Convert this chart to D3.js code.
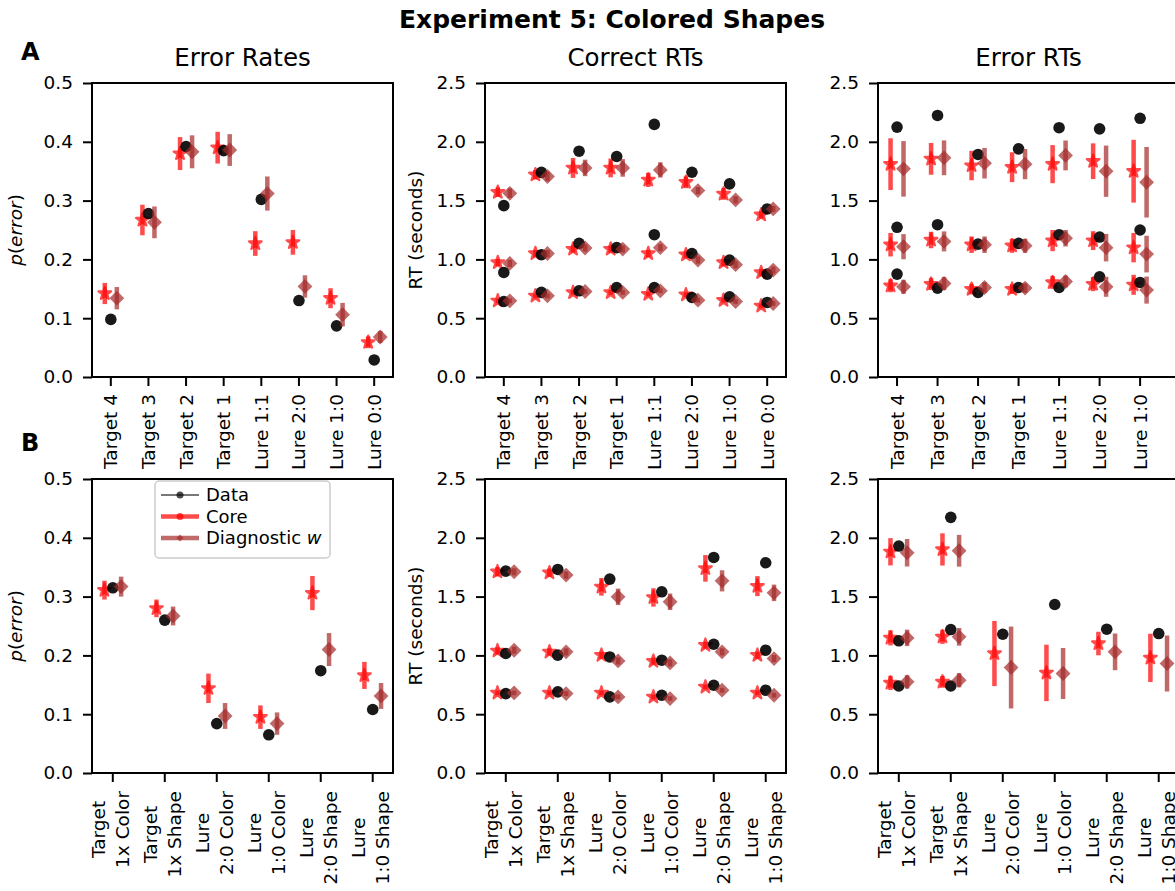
<!DOCTYPE html>
<html>
<head>
<meta charset="utf-8">
<script src="https://cdn.jsdelivr.net/npm/d3@7/dist/d3.min.js"></script>
<style>
  body { margin: 0; background: #fff; }
  text { font-family: "DejaVu Sans", sans-serif; fill: #000; }
</style>
</head>
<body>
<svg id="fig" width="1175" height="891"></svg>
<script>
// ---- categories / ticks ----
const topCats = ["Target 4", "Target 3", "Target 2", "Target 1", "Lure 1:1", "Lure 2:0", "Lure 1:0", "Lure 0:0"];
const topErrRtCats = ["Target 4", "Target 3", "Target 2", "Target 1", "Lure 1:1", "Lure 2:0", "Lure 1:0"];
const bottomCats = [["Target", "1x Color"], ["Target", "1x Shape"], ["Lure", "2:0 Color"],
                    ["Lure", "1:0 Color"], ["Lure", "2:0 Shape"], ["Lure", "1:0 Shape"]];
const rateTicks = [0, 0.1, 0.2, 0.3, 0.4, 0.5];
const rtTicks = [0, 0.5, 1.0, 1.5, 2.0, 2.5];

// ---- A: error rates ----
const aRateData = [0.098, 0.278, 0.392, 0.385, 0.302, 0.130, 0.087, 0.029];
const aRateCore = [0.142, 0.267, 0.380, 0.390, 0.227, 0.229, 0.134, 0.059];
const aRateCoreErr = [0.018, 0.026, 0.028, 0.027, 0.021, 0.021, 0.017, 0.010];
const aRateDiag = [0.134, 0.263, 0.383, 0.386, 0.312, 0.154, 0.106, 0.068];
const aRateDiagErr = [0.019, 0.027, 0.028, 0.027, 0.029, 0.019, 0.020, 0.010];

// ---- A: correct RTs (rows = low, mid, high quantile) ----
const aCorrData = [[0.642, 0.720, 0.733, 0.761, 0.761, 0.676, 0.682, 0.634],
                   [0.889, 1.040, 1.136, 1.100, 1.210, 1.050, 0.994, 0.875],
                   [1.457, 1.740, 1.920, 1.875, 2.148, 1.741, 1.642, 1.429]];
const aCorrCore = [[0.648, 0.690, 0.719, 0.719, 0.705, 0.700, 0.653, 0.605],
                   [0.974, 1.050, 1.088, 1.088, 1.050, 1.040, 0.974, 0.889],
                   [1.571, 1.720, 1.778, 1.778, 1.676, 1.656, 1.557, 1.380]];
const aCorrCoreErr = [[0.02, 0.02, 0.02, 0.02, 0.02, 0.02, 0.02, 0.02],
                      [0.03, 0.03, 0.03, 0.03, 0.03, 0.03, 0.03, 0.03],
                      [0.04, 0.04, 0.085, 0.08, 0.06, 0.05, 0.05, 0.03]];
const aCorrDiag = [[0.648, 0.690, 0.727, 0.719, 0.733, 0.653, 0.642, 0.625],
                   [0.966, 1.050, 1.097, 1.088, 1.100, 0.994, 0.955, 0.909],
                   [1.562, 1.705, 1.778, 1.778, 1.761, 1.585, 1.506, 1.429]];
const aCorrDiagErr = [[0.02, 0.02, 0.02, 0.02, 0.02, 0.02, 0.02, 0.02],
                      [0.03, 0.03, 0.03, 0.03, 0.03, 0.03, 0.03, 0.03],
                      [0.04, 0.04, 0.07, 0.075, 0.065, 0.03, 0.03, 0.025]];

// ---- A: error RTs ----
const aErrData = [[0.875, 0.756, 0.719, 0.761, 0.761, 0.852, 0.804],
                  [1.273, 1.295, 1.130, 1.136, 1.210, 1.190, 1.250],
                  [2.125, 2.224, 1.892, 1.940, 2.120, 2.110, 2.200]];
const aErrCore = [[0.776, 0.790, 0.747, 0.747, 0.804, 0.790, 0.784],
                  [1.125, 1.165, 1.125, 1.116, 1.160, 1.160, 1.100],
                  [1.810, 1.855, 1.798, 1.784, 1.810, 1.835, 1.750]];
const aErrCoreErr = [[0.055, 0.05, 0.045, 0.04, 0.055, 0.06, 0.085],
                     [0.10, 0.07, 0.07, 0.06, 0.09, 0.08, 0.125],
                     [0.22, 0.135, 0.125, 0.127, 0.162, 0.152, 0.267]];
const aErrDiag = [[0.767, 0.795, 0.761, 0.756, 0.812, 0.767, 0.739],
                  [1.108, 1.153, 1.125, 1.116, 1.180, 1.100, 1.045],
                  [1.770, 1.864, 1.818, 1.810, 1.884, 1.750, 1.656]];
const aErrDiagErr = [[0.06, 0.055, 0.045, 0.04, 0.05, 0.085, 0.115],
                     [0.107, 0.085, 0.07, 0.06, 0.07, 0.117, 0.156],
                     [0.236, 0.148, 0.13, 0.128, 0.127, 0.218, 0.30]];

// ---- B: error rates ----
const bRateData = [0.315, 0.260, 0.084, 0.065, 0.174, 0.108];
const bRateCore = [0.311, 0.280, 0.144, 0.095, 0.306, 0.166];
const bRateCoreErr = [0.016, 0.015, 0.025, 0.020, 0.029, 0.023];
const bRateDiag = [0.317, 0.267, 0.097, 0.084, 0.210, 0.131];
const bRateDiagErr = [0.017, 0.016, 0.022, 0.019, 0.028, 0.022];

// ---- B: correct RTs ----
const bCorrData = [[0.675, 0.690, 0.647, 0.661, 0.746, 0.704],
                   [1.016, 1.002, 0.987, 0.959, 1.095, 1.044],
                   [1.717, 1.731, 1.649, 1.541, 1.833, 1.788]];
const bCorrCore = [[0.681, 0.681, 0.681, 0.647, 0.732, 0.681],
                   [1.039, 1.030, 1.002, 0.951, 1.087, 1.002],
                   [1.711, 1.703, 1.583, 1.493, 1.740, 1.589]];
const bCorrCoreErr = [[0.02, 0.02, 0.02, 0.02, 0.02, 0.02],
                      [0.03, 0.03, 0.03, 0.03, 0.03, 0.03],
                      [0.04, 0.035, 0.075, 0.078, 0.113, 0.085]];
const bCorrDiag = [[0.681, 0.675, 0.647, 0.633, 0.704, 0.661],
                   [1.044, 1.030, 0.953, 0.936, 1.030, 0.973],
                   [1.711, 1.683, 1.498, 1.456, 1.634, 1.532]];
const bCorrDiagErr = [[0.02, 0.02, 0.02, 0.02, 0.02, 0.02],
                      [0.03, 0.03, 0.03, 0.03, 0.03, 0.03],
                      [0.03, 0.03, 0.07, 0.07, 0.09, 0.07]];

// ---- B: error RTs (lures only have a single point) ----
const bErrData = [[0.740, 0.740, null, null, null, null],
                  [1.124, 1.220, 1.180, 1.433, 1.223, 1.186],
                  [1.930, 2.174, null, null, null, null]];
const bErrCore = [[0.766, 0.775, null, null, null, null],
                  [1.149, 1.158, 1.016, 0.851, 1.101, 0.979],
                  [1.881, 1.901, null, null, null, null]];
const bErrCoreErr = [[0.06, 0.05, 0, 0, 0, 0],
                     [0.064, 0.06, 0.277, 0.24, 0.10, 0.205],
                     [0.116, 0.137, 0, 0, 0, 0]];
const bErrDiag = [[0.775, 0.789, null, null, null, null],
                  [1.149, 1.158, 0.897, 0.846, 1.030, 0.931],
                  [1.873, 1.890, null, null, null, null]];
const bErrDiagErr = [[0.057, 0.06, 0, 0, 0, 0],
                     [0.07, 0.075, 0.348, 0.217, 0.156, 0.238],
                     [0.117, 0.135, 0, 0, 0, 0]];

// ---- layout ----
const svg = d3.select("#fig");
const colX = [92, 485, 878];
const rowY = [83, 479];
const pw = 301, ph = 294;
const off = 0.16;

const coreColor = "red", diagColor = "brown", alpha = 0.7;

// suptitle and panel letters
svg.append("text").attr("x", 612).attr("y", 28).attr("text-anchor", "middle")
  .style("font-size", "25px").style("font-weight", "bold").text("Experiment 5: Colored Shapes");
svg.append("text").attr("x", 21).attr("y", 60).style("font-size", "24px").style("font-weight", "bold").text("A");
svg.append("text").attr("x", 21).attr("y", 451).style("font-size", "24px").style("font-weight", "bold").text("B");

function drawPanel(o) {
  const g = svg.append("g").attr("transform", `translate(${o.x},${o.y})`);
  const x = d3.scaleLinear().domain(o.xDomain).range([0, pw]);
  const y = d3.scaleLinear().domain([0, o.yMax]).range([ph, 0]);

  // y axis
  const yAxis = g.append("g")
    .call(d3.axisLeft(y).tickValues(o.yTicks).tickFormat(d3.format(".1f")).tickSize(9).tickPadding(10));
  yAxis.select(".domain").remove();
  yAxis.selectAll(".tick line").attr("stroke", "#000").attr("stroke-width", 2);
  yAxis.selectAll(".tick text").style("font-size", "18.5px").attr("font-family", "DejaVu Sans");

  // x ticks
  const xt = g.append("g").attr("transform", `translate(0,${ph})`);
  o.cats.forEach((c, i) => {
    xt.append("line").attr("x1", x(i)).attr("x2", x(i)).attr("y1", 0).attr("y2", 9)
      .attr("stroke", "#000").attr("stroke-width", 2);
  });

  if (!o.twoLine) {
    o.cats.forEach((c, i) => {
      xt.append("text")
        .attr("transform", `translate(${x(i)},17) rotate(-90)`)
        .attr("text-anchor", "end").attr("dy", "0.35em")
        .style("font-size", "18.5px").text(c);
    });
  } else {
    o.cats.forEach((c, i) => {
      const lab = xt.append("g");
      const lines = c.map((s, k) => lab.append("text")
        .attr("text-anchor", "middle").style("font-size", "18.5px").text(s)
        .attr("y", k === 0 ? -8 : 16));
      const maxLen = d3.max(lines, t => t.node().getComputedTextLength());
      lab.attr("transform", `translate(${x(i)},${18 + maxLen / 2}) rotate(-90)`);
    });
  }

  // frame
  g.append("rect").attr("width", pw).attr("height", ph)
    .attr("fill", "none").attr("stroke", "#000").attr("stroke-width", 2);

  // title
  if (o.title) {
    g.append("text").attr("x", pw / 2).attr("y", -17).attr("text-anchor", "middle")
      .style("font-size", "24.5px").text(o.title);
  }

  // y label
  if (o.ylabel === "p") {
    const t = g.append("text").attr("transform", `translate(-70,${ph / 2}) rotate(-90)`)
      .attr("text-anchor", "middle").style("font-size", "18.5px");
    t.append("tspan").style("font-style", "italic").text("p");
    t.append("tspan").text("(");
    t.append("tspan").style("font-style", "italic").text("error");
    t.append("tspan").text(")");
  } else if (o.ylabel === "rt") {
    g.append("text").attr("transform", `translate(-63,${ph / 2}) rotate(-90)`)
      .attr("text-anchor", "middle").style("font-size", "18.5px").text("RT (seconds)");
  }

  // series: arrays of rows
  const rows = v => Array.isArray(v[0]) ? v : [v];
  const marks = g.append("g");

  // core
  rows(o.core).forEach((row, r) => {
    const errRow = rows(o.coreErr)[r];
    row.forEach((v, i) => {
      if (v == null) return;
      const cx = x(i - off);
      marks.append("line").attr("x1", cx).attr("x2", cx)
        .attr("y1", y(v - errRow[i])).attr("y2", y(v + errRow[i]))
        .attr("stroke", coreColor).attr("stroke-width", 4.5).attr("opacity", alpha);
      marks.append("path").attr("d", d3.symbol(d3.symbolStar, 50)())
        .attr("transform", `translate(${cx},${y(v)})`)
        .attr("fill", coreColor).attr("stroke", coreColor).attr("stroke-width", 2.2)
        .attr("stroke-linejoin", "round").attr("opacity", alpha);
    });
  });

  // data
  rows(o.data).forEach(row => {
    row.forEach((v, i) => {
      if (v == null) return;
      marks.append("circle").attr("cx", x(i)).attr("cy", y(v)).attr("r", 5.8)
        .attr("fill", "#000").attr("opacity", 0.9);
    });
  });

  // diagnostic w
  rows(o.diag).forEach((row, r) => {
    const errRow = rows(o.diagErr)[r];
    row.forEach((v, i) => {
      if (v == null) return;
      const cx = x(i + off);
      marks.append("line").attr("x1", cx).attr("x2", cx)
        .attr("y1", y(v - errRow[i])).attr("y2", y(v + errRow[i]))
        .attr("stroke", diagColor).attr("stroke-width", 4.5).attr("opacity", alpha);
      marks.append("path").attr("d", d3.symbol(d3.symbolSquare, 72)())
        .attr("transform", `translate(${cx},${y(v)}) rotate(45)`)
        .attr("fill", diagColor).attr("stroke", diagColor).attr("stroke-width", 2)
        .attr("opacity", alpha);
    });
  });

  return g;
}

const topDom = [-0.5, 7.5];
const topErrDom = [-0.47, 6.96];
const botDom = [-0.4, 5.39];

drawPanel({ x: colX[0], y: rowY[0], xDomain: topDom, yMax: 0.5, yTicks: rateTicks, cats: topCats,
  title: "Error Rates", ylabel: "p",
  data: aRateData, core: aRateCore, coreErr: aRateCoreErr, diag: aRateDiag, diagErr: aRateDiagErr });
drawPanel({ x: colX[1], y: rowY[0], xDomain: topDom, yMax: 2.5, yTicks: rtTicks, cats: topCats,
  title: "Correct RTs", ylabel: "rt",
  data: aCorrData, core: aCorrCore, coreErr: aCorrCoreErr, diag: aCorrDiag, diagErr: aCorrDiagErr });
drawPanel({ x: colX[2], y: rowY[0], xDomain: topErrDom, yMax: 2.5, yTicks: rtTicks, cats: topErrRtCats,
  title: "Error RTs",
  data: aErrData, core: aErrCore, coreErr: aErrCoreErr, diag: aErrDiag, diagErr: aErrDiagErr });

const bLeft = drawPanel({ x: colX[0], y: rowY[1], xDomain: botDom, yMax: 0.5, yTicks: rateTicks, cats: bottomCats,
  twoLine: true, ylabel: "p",
  data: bRateData, core: bRateCore, coreErr: bRateCoreErr, diag: bRateDiag, diagErr: bRateDiagErr });
drawPanel({ x: colX[1], y: rowY[1], xDomain: botDom, yMax: 2.5, yTicks: rtTicks, cats: bottomCats,
  twoLine: true, ylabel: "rt",
  data: bCorrData, core: bCorrCore, coreErr: bCorrCoreErr, diag: bCorrDiag, diagErr: bCorrDiagErr });
drawPanel({ x: colX[2], y: rowY[1], xDomain: botDom, yMax: 2.5, yTicks: rtTicks, cats: bottomCats,
  twoLine: true,
  data: bErrData, core: bErrCore, coreErr: bErrCoreErr, diag: bErrDiag, diagErr: bErrDiagErr });

// legend (bottom-left panel)
const legendItems = ["Data", "Core", "Diagnostic"];
const leg = bLeft.append("g").attr("transform", "translate(63,2)");
leg.append("rect").attr("width", 175).attr("height", 77).attr("rx", 4)
  .attr("fill", "#fff").attr("fill-opacity", 0.8).attr("stroke", "#cccccc").attr("stroke-width", 1.5);
legendItems.forEach((name, k) => {
  const ly = 14 + k * 21.5;
  const row = leg.append("g").attr("transform", `translate(0,${ly})`);
  if (k === 0) {
    row.append("line").attr("x1", 6).attr("x2", 44).attr("stroke", "#000").attr("stroke-width", 1.3).attr("opacity", 0.7);
    row.append("circle").attr("cx", 25).attr("r", 3.5).attr("fill", "#000").attr("opacity", 0.7);
  } else {
    const col = k === 1 ? coreColor : diagColor;
    row.append("line").attr("x1", 6).attr("x2", 44).attr("stroke", col).attr("stroke-width", 4.5).attr("opacity", alpha);
    if (k === 1) {
      row.append("circle").attr("cx", 25).attr("r", 3.5).attr("fill", col).attr("opacity", alpha);
    } else {
      row.append("path").attr("d", d3.symbol(d3.symbolSquare, 24)())
        .attr("transform", "translate(25,0) rotate(45)").attr("fill", col).attr("opacity", alpha);
    }
  }
  const t = row.append("text").attr("x", 51).attr("dy", "0.35em").style("font-size", "18px").text(name);
  if (k === 2) t.append("tspan").text(" ");
  if (k === 2) t.append("tspan").style("font-style", "italic").text("w");
});
</script>
</body>
</html>
